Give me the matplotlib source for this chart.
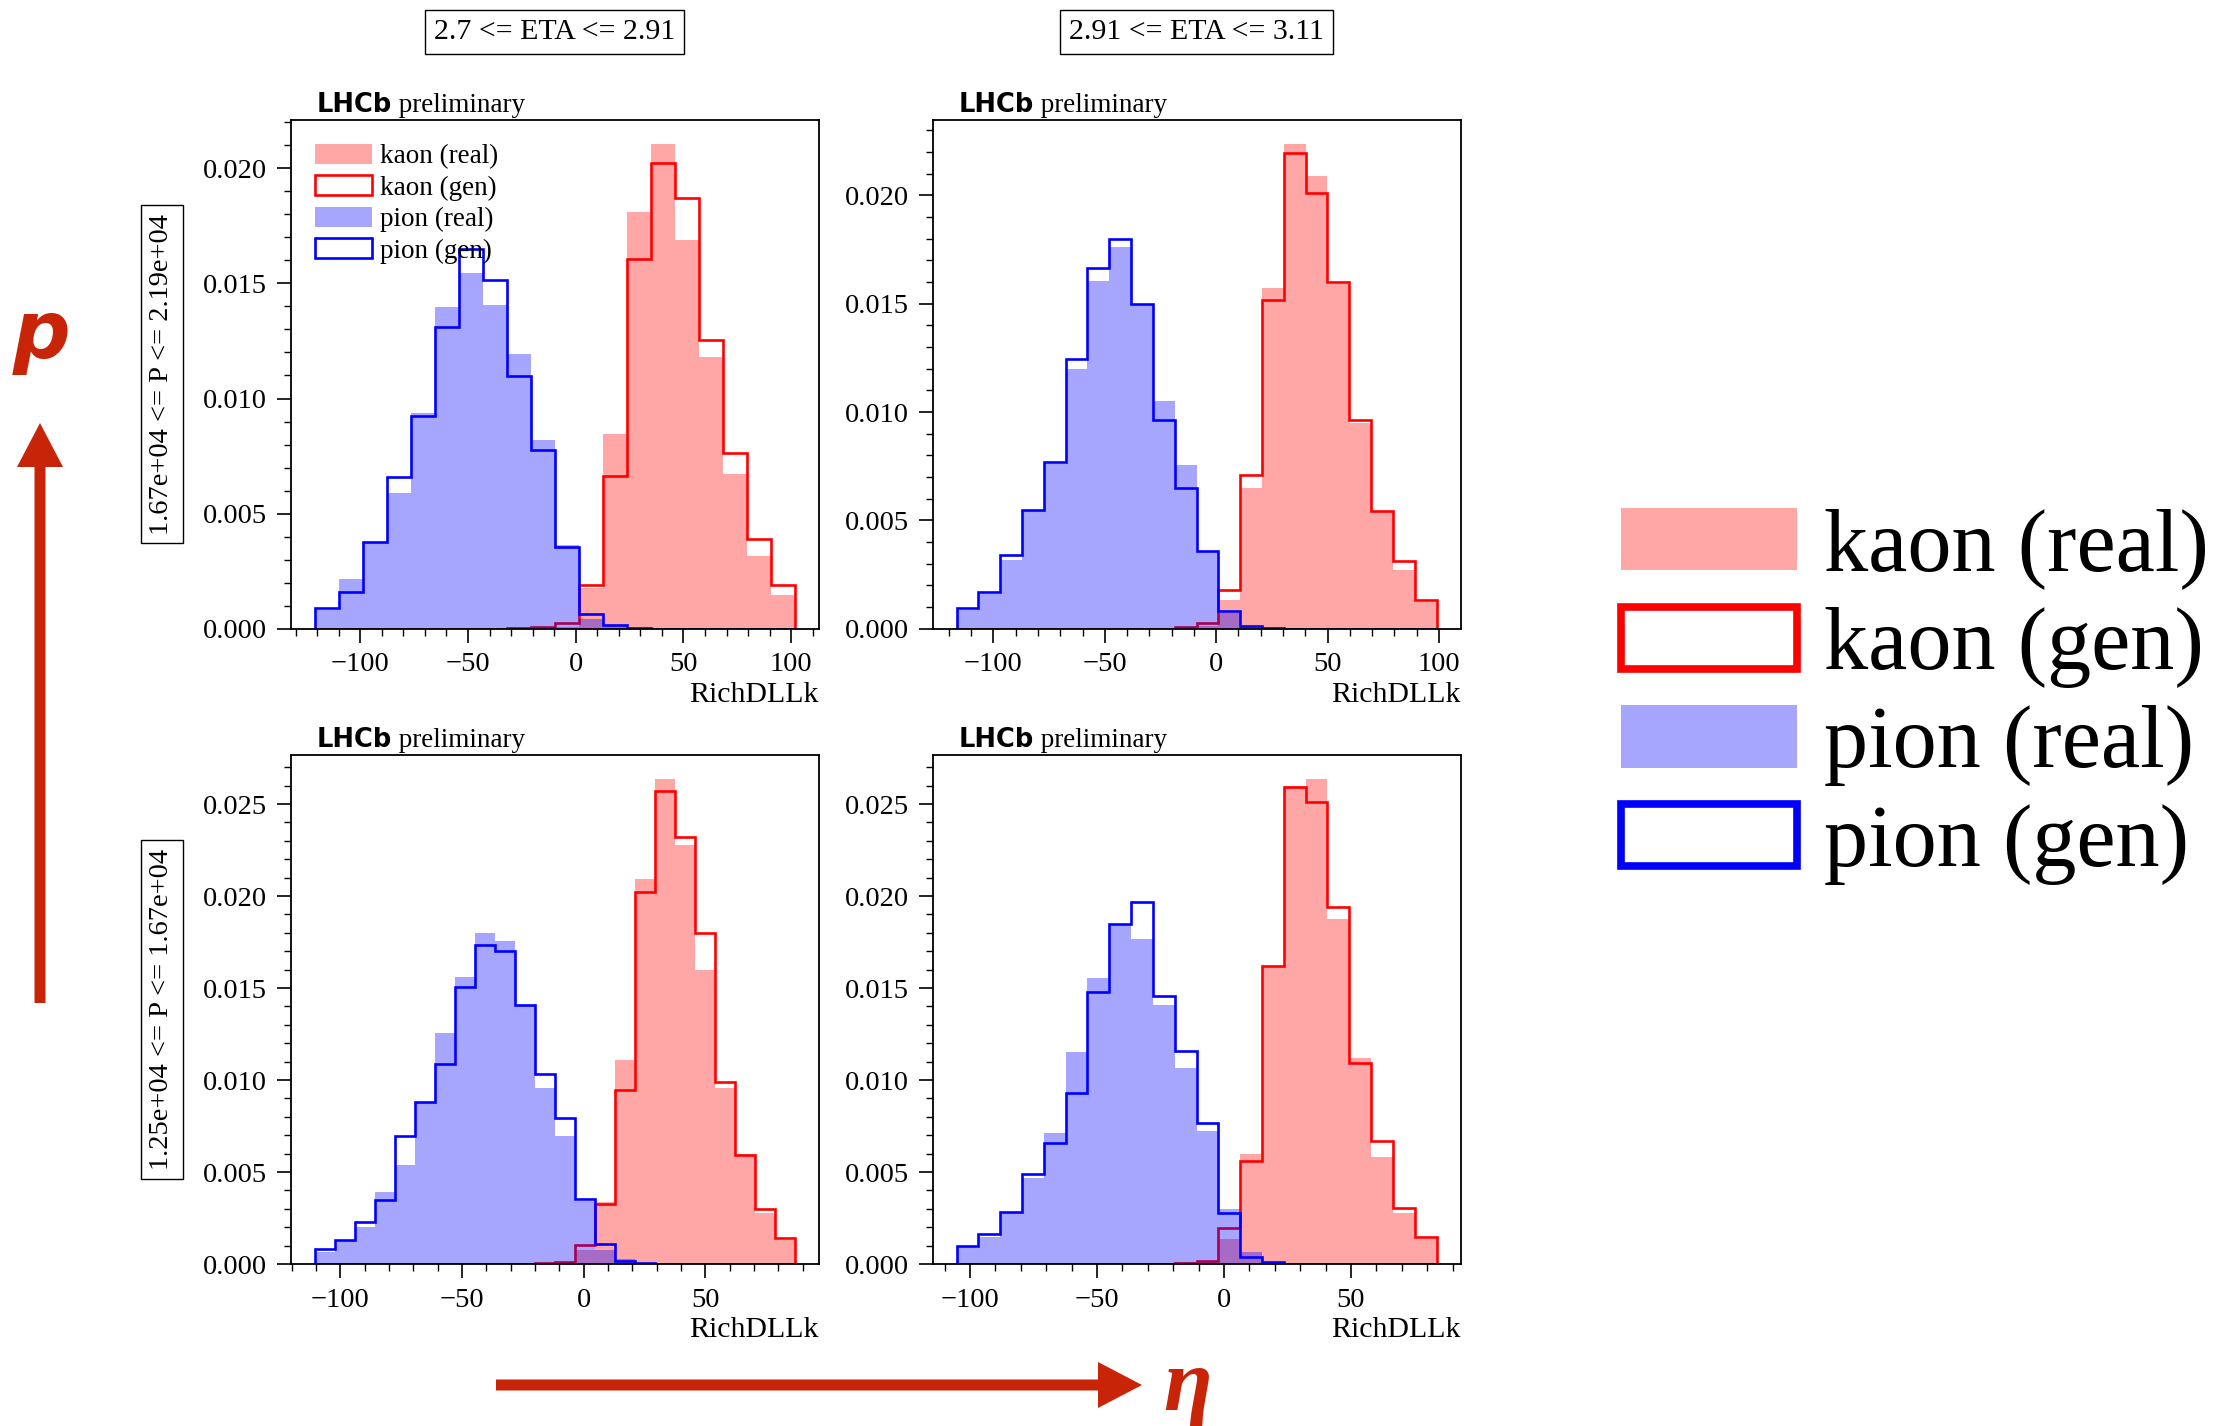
import numpy as np
import matplotlib
matplotlib.use("Agg")
import matplotlib.pyplot as plt
from matplotlib.patches import Patch, FancyArrow
from matplotlib.ticker import MultipleLocator, FormatStrFormatter

# ---------------- data ----------------
eta_labels = ["2.7 <= ETA <= 2.91", "2.91 <= ETA <= 3.11"]
p_labels = ["1.67e+04 <= P <= 2.19e+04", "1.25e+04 <= P <= 1.67e+04"]
legend_labels = ["kaon (real)", "kaon (gen)", "pion (real)", "pion (gen)"]
x_label = "RichDLLk"

# histogram ranges (RichDLLk min, max) and number of bins for each panel
range_tl = (-121.2, 101.5); nbins_tl = 20
range_tr = (-116.6, 98.9);  nbins_tr = 22
range_bl = (-110.6, 86.7);  nbins_bl = 24
range_br = (-105.3, 83.7);  nbins_br = 22

# densities, top-left panel
pion_real_tl = [0.00080, 0.00218, 0.00371, 0.00589, 0.00938, 0.01396, 0.01543, 0.01406, 0.01192, 0.00819,
                0.00366, 0.00044, 0.00012, 0.00004, 0, 0, 0, 0, 0, 0]
pion_gen_tl = [0.00092, 0.00159, 0.00377, 0.00658, 0.00925, 0.01309, 0.01650, 0.01516, 0.01097, 0.00775,
               0.00354, 0.00065, 0.00018, 0.00005, 0, 0, 0, 0, 0, 0]
kaon_real_tl = [0, 0, 0, 0, 0, 0, 0, 0, 0.00009, 0.00004,
                0.00009, 0.00177, 0.00844, 0.01810, 0.02105, 0.01689, 0.01180, 0.00672, 0.00318, 0.00147]
kaon_gen_tl = [0, 0, 0, 0, 0, 0, 0, 0, 0.00005, 0.00009,
               0.00027, 0.00189, 0.00663, 0.01606, 0.02022, 0.01870, 0.01256, 0.00764, 0.00389, 0.00189]

# top-right panel
pion_real_tr = [0.00087, 0.00160, 0.00316, 0.00548, 0.00758, 0.01199, 0.01602, 0.01760, 0.01498, 0.01052, 0.00755,
                0.00359, 0.00072, 0.00009, 0.00002, 0, 0, 0, 0, 0, 0, 0]
pion_gen_tr = [0.00094, 0.00169, 0.00339, 0.00548, 0.00768, 0.01246, 0.01662, 0.01799, 0.01498, 0.00962, 0.00651,
               0.00359, 0.00081, 0.00015, 0.00004, 0, 0, 0, 0, 0, 0, 0]
kaon_real_tr = [0, 0, 0, 0, 0, 0, 0, 0, 0, 0, 0.00004,
                0.00015, 0.00132, 0.00651, 0.01573, 0.02236, 0.02089, 0.01592, 0.00950, 0.00542, 0.00273, 0.00124]
kaon_gen_tr = [0, 0, 0, 0, 0, 0, 0, 0, 0, 0, 0.00006,
               0.00028, 0.00181, 0.00711, 0.01515, 0.02196, 0.02010, 0.01600, 0.00962, 0.00542, 0.00312, 0.00134]

# bottom-left panel
pion_real_bl = [0.00064, 0.00130, 0.00200, 0.00394, 0.00539, 0.00879, 0.01257, 0.01562, 0.01801, 0.01758, 0.01407, 0.00957,
                0.00695, 0.00345, 0.00074, 0.00025, 0.00006, 0, 0, 0, 0, 0, 0, 0]
pion_gen_bl = [0.00083, 0.00130, 0.00229, 0.00349, 0.00695, 0.00879, 0.01087, 0.01506, 0.01733, 0.01700, 0.01407, 0.01034,
               0.00792, 0.00355, 0.00107, 0.00019, 0.00006, 0, 0, 0, 0, 0, 0, 0]
kaon_real_bl = [0, 0, 0, 0, 0, 0, 0, 0, 0, 0, 0, 0.00004,
                0.00012, 0.00074, 0.00336, 0.01108, 0.02092, 0.02635, 0.02280, 0.01597, 0.00957, 0.00598, 0.00277, 0.00132]
kaon_gen_bl = [0, 0, 0, 0, 0, 0, 0, 0, 0, 0, 0, 0.00006,
               0.00010, 0.00103, 0.00326, 0.00947, 0.02024, 0.02571, 0.02319, 0.01801, 0.00990, 0.00594, 0.00297, 0.00142]

# bottom-right panel
pion_real_br = [0.00093, 0.00147, 0.00281, 0.00466, 0.00714, 0.01151, 0.01554, 0.01840, 0.01766, 0.01409, 0.01067,
                0.00724, 0.00297, 0.00064, 0.00010, 0, 0, 0, 0, 0, 0, 0]
pion_gen_br = [0.00097, 0.00161, 0.00281, 0.00491, 0.00656, 0.00931, 0.01481, 0.01849, 0.01970, 0.01455, 0.01157,
               0.00768, 0.00277, 0.00039, 0.00010, 0, 0, 0, 0, 0, 0, 0]
kaon_real_br = [0, 0, 0, 0, 0, 0, 0, 0.00004, 0.00005, 0.00008, 0.00012,
                0.00019, 0.00136, 0.00598, 0.01622, 0.02596, 0.02635, 0.01875, 0.01118, 0.00582, 0.00277, 0.00136]
kaon_gen_br = [0, 0, 0, 0, 0, 0, 0, 0, 0, 0, 0.00008,
               0.00016, 0.00196, 0.00559, 0.01622, 0.02591, 0.02509, 0.01942, 0.01092, 0.00666, 0.00303, 0.00146]

# ---------------- style ----------------
plt.rcParams["font.family"] = ["Liberation Serif", "DejaVu Serif"]
plt.rcParams["font.size"] = 20.5

KAON = "red"
PION = "blue"
ALPHA = 0.35
ARROW = "#C82508"
LW = 1.9

W, H = 2230, 1426
fig = plt.figure(figsize=(W / 100, H / 100), dpi=100)

col_left = [290.5 / W, 932.5 / W]
row_bottom = [1 - 628.8 / H, 1 - 1264.0 / H]
ax_w = 528.0 / W
ax_h = 509.0 / H

panels = [
    (0, 0, range_tl, nbins_tl, kaon_real_tl, kaon_gen_tl, pion_real_tl, pion_gen_tl),
    (0, 1, range_tr, nbins_tr, kaon_real_tr, kaon_gen_tr, pion_real_tr, pion_gen_tr),
    (1, 0, range_bl, nbins_bl, kaon_real_bl, kaon_gen_bl, pion_real_bl, pion_gen_bl),
    (1, 1, range_br, nbins_br, kaon_real_br, kaon_gen_br, pion_real_br, pion_gen_br),
]

for r, c, rng, nb, kr, kg, pr, pg in panels:
    ax = fig.add_axes([col_left[c], row_bottom[r], ax_w, ax_h])
    edges = np.linspace(rng[0], rng[1], nb + 1)
    ax.stairs(kr, edges, fill=True, facecolor=KAON, alpha=ALPHA, lw=0)
    ax.stairs(kg, edges, edgecolor=KAON, lw=LW)
    ax.stairs(pr, edges, fill=True, facecolor=PION, alpha=ALPHA, lw=0)
    ax.stairs(pg, edges, edgecolor=PION, lw=LW)

    ax.xaxis.set_major_locator(MultipleLocator(50))
    ax.xaxis.set_minor_locator(MultipleLocator(10))
    ax.yaxis.set_major_locator(MultipleLocator(0.005))
    ax.yaxis.set_minor_locator(MultipleLocator(0.001))
    ax.yaxis.set_major_formatter(FormatStrFormatter("%.3f"))
    ax.tick_params(which="both", direction="out", top=False, right=False)
    ax.tick_params(which="major", length=10, width=1.2, pad=7, labelsize=20.5)
    ax.tick_params(which="minor", length=5, width=1.0)
    for sp in ax.spines.values():
        sp.set_linewidth(1.3)
    ax.set_xlabel(x_label, loc="right", fontsize=21.5, labelpad=3)

    t = ax.text(0.05, 1.016, "LHCb", transform=ax.transAxes, family="DejaVu Sans",
                weight="bold", fontsize=18.5, va="baseline", ha="left")
    ax.annotate(" preliminary", xy=(1, 1.016), xycoords=(t, "axes fraction"),
                va="baseline", ha="left", fontsize=19.5)

    if r == 0 and c == 0:
        small_handles = [
            Patch(facecolor=KAON, alpha=ALPHA, edgecolor="none"),
            Patch(facecolor="white", edgecolor=KAON, lw=LW),
            Patch(facecolor=PION, alpha=ALPHA, edgecolor="none"),
            Patch(facecolor="white", edgecolor=PION, lw=LW),
        ]
        ax.legend(small_handles, legend_labels, loc="upper left", frameon=False, fontsize=19.5,
                  handlelength=2.1, handleheight=0.75, handletextpad=0.3, labelspacing=0.22)

# column headers
box = dict(boxstyle="square,pad=0.3", fc="white", ec="black", lw=1.0)
for c in range(2):
    fig.text(col_left[c] + ax_w / 2, 1 - 32 / H, eta_labels[c], ha="center", va="center",
             fontsize=21.5, bbox=box)
# row labels
for r in range(2):
    fig.text(162 / W, row_bottom[r] + ax_h / 2, p_labels[r], rotation=90, ha="center",
             va="center", fontsize=20.5, bbox=box)

# big legend
big_handles = [
    Patch(facecolor=KAON, alpha=ALPHA, edgecolor="none"),
    Patch(facecolor="white", edgecolor=KAON, lw=5.5),
    Patch(facecolor=PION, alpha=ALPHA, edgecolor="none"),
    Patch(facecolor="white", edgecolor=PION, lw=5.5),
]
fig.legend(big_handles, legend_labels, loc="upper left", bbox_to_anchor=(1621 / W, 1 - 508 / H),
           frameon=False, borderpad=0, borderaxespad=0, fontsize=63.5, handlelength=2.0,
           handleheight=0.71, handletextpad=0.3, labelspacing=0.2)

# arrows (inches from bottom-left)
fig.add_artist(FancyArrow(0.40, (H - 1003) / 100, 0, (1003 - 423) / 100, width=0.11,
                          head_width=0.46, head_length=0.44, length_includes_head=True,
                          color=ARROW, lw=0, transform=fig.dpi_scale_trans))
fig.add_artist(FancyArrow(4.96, (H - 1385) / 100, (1142 - 496) / 100, 0, width=0.11,
                          head_width=0.46, head_length=0.44, length_includes_head=True,
                          color=ARROW, lw=0, transform=fig.dpi_scale_trans))
fig.text(42 / W, 1 - 358 / H, "p", family="DejaVu Sans", weight="bold", style="italic",
         fontsize=58, color=ARROW, ha="center", va="baseline")
fig.text(1163 / W, 1 - 1410 / H, "η", family="Liberation Serif", weight="bold", style="italic",
         fontsize=64, color=ARROW, ha="left", va="baseline")

fig.savefig("out.png", dpi=100)
